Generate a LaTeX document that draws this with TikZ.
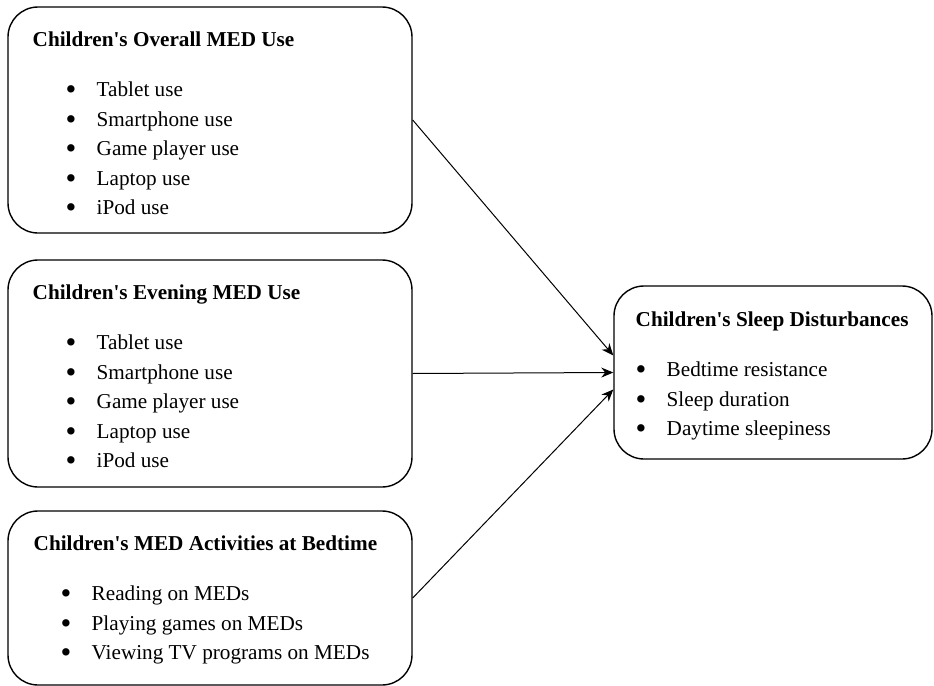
\documentclass[tikz,border=0pt]{standalone}
\usepackage{fontspec}
\setmainfont{Liberation Serif}
\usepackage{tikz}
\usetikzlibrary{arrows.meta,positioning,calc}

\newcommand{\bitem}[2]{\hspace*{#1}\makebox[15.5pt][l]{\raisebox{-1.5pt}{\scalebox{1.45}{\textbullet}}}#2}

\begin{document}
\begin{tikzpicture}[x=0.5pt,y=-0.5pt,>={Stealth[length=6pt,width=5pt]},font=\fontsize{10.6}{14.8}\selectfont,
   medbox/.style={draw,line width=0.7pt,rounded corners=15pt,inner sep=0pt},
   boxtext/.style={anchor=north west,align=left,inner sep=0pt}]
  \useasboundingbox (0,0) rectangle (934,686);
  % boxes
  \node[medbox,minimum width=202pt,minimum height=113pt] (overall) at (210,120) {};
  \node[medbox,minimum width=202pt,minimum height=113.5pt] (evening) at (210,373.5) {};
  \node[medbox,minimum width=202pt,minimum height=87pt] (bedtime) at (210,598) {};
  \node[medbox,minimum width=159pt,minimum height=86.5pt] (sleep) at (773,372.5) {};
  % texts
  \node[boxtext] (overalltxt) at ($(overall.north west)+(25,25)$) {\textbf{Children\textquotesingle s Overall MED Use}\\[10.2pt]
    \bitem{16.5pt}{Tablet use}\\ \bitem{16.5pt}{Smartphone use}\\ \bitem{16.5pt}{Game player use}\\
    \bitem{16.5pt}{Laptop use}\\ \bitem{16.5pt}{iPod use}};
  \node[boxtext] (eveningtxt) at ($(evening.north west)+(25,25)$) {\textbf{Children\textquotesingle s Evening MED Use}\\[10.2pt]
    \bitem{16.5pt}{Tablet use}\\ \bitem{16.5pt}{Smartphone use}\\ \bitem{16.5pt}{Game player use}\\
    \bitem{16.5pt}{Laptop use}\\ \bitem{16.5pt}{iPod use}};
  \node[boxtext] (bedtimetxt) at ($(bedtime.north west)+(26,25)$) {\textbf{Children\textquotesingle s MED Activities at Bedtime}\\[10.2pt]
    \bitem{13.5pt}{Reading on MEDs}\\ \bitem{13.5pt}{Playing games on MEDs}\\ \bitem{13.5pt}{Viewing TV programs on MEDs}};
  \node[boxtext] (sleeptxt) at ($(sleep.north west)+(22,26)$) {\textbf{Children\textquotesingle s Sleep Disturbances}\\[10.2pt]
    \bitem{0pt}{Bedtime resistance}\\ \bitem{0pt}{Sleep duration}\\ \bitem{0pt}{Daytime sleepiness}};
  % arrows
  \draw[->,line width=0.5pt] (overall.east) -- ([yshift=8.5pt]sleep.west);
  \draw[->,line width=0.5pt] (evening.east) -- (sleep.west);
  \draw[->,line width=0.5pt] (bedtime.east) -- ([yshift=-8.5pt]sleep.west);
\end{tikzpicture}
\end{document}
